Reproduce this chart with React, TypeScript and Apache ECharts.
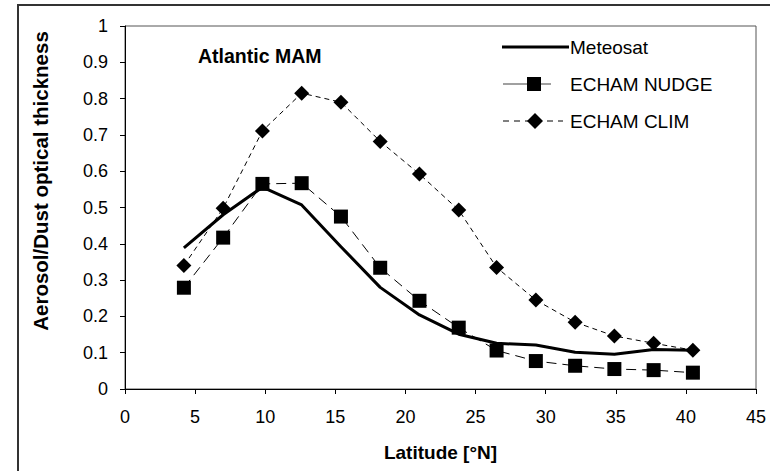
import React, { useEffect, useRef } from "react";
import * as echarts from "echarts";

// Latitude of each zonal band centre [°N]
const latitudes = [4.2, 7.0, 9.8, 12.6, 15.4, 18.2, 21.0, 23.8, 26.5, 29.3, 32.1, 34.9, 37.7, 40.5];

// Aerosol/dust optical thickness per band
const meteosat = [0.389, 0.48, 0.556, 0.507, 0.392, 0.28, 0.204, 0.151, 0.126, 0.121, 0.101, 0.096, 0.109, 0.107];
const echamNudge = [0.279, 0.417, 0.565, 0.567, 0.475, 0.334, 0.243, 0.169, 0.106, 0.077, 0.064, 0.055, 0.052, 0.045];
const echamClim = [0.34, 0.498, 0.711, 0.815, 0.79, 0.682, 0.592, 0.493, 0.335, 0.245, 0.184, 0.146, 0.126, 0.107];

const seriesNames = ["Meteosat", "ECHAM NUDGE", "ECHAM CLIM"];

const FONT = "'Liberation Sans', Arial, sans-serif";

const pairs = (ys: number[]) => latitudes.map((x, i) => [x, ys[i]]);

export default function App() {
  const ref = useRef<HTMLDivElement>(null);

  useEffect(() => {
    if (!ref.current) return;
    const chart = echarts.init(ref.current, undefined, { renderer: "svg" });

    const legendText = (y: number, text: string, x: number) => ({
      type: "text",
      x,
      y,
      style: {
        text,
        font: `19px ${FONT}`,
        fill: "#000",
        textAlign: "left",
        textVerticalAlign: "middle",
      },
    });

    chart.setOption({
      animation: false,
      backgroundColor: "#fff",
      grid: {
        left: 125,
        top: 26,
        right: 14,
        bottom: 82,
        show: true,
        borderColor: "#555",
        borderWidth: 1,
      },
      xAxis: {
        type: "value",
        min: 0,
        max: 45,
        interval: 5,
        name: "Latitude [°N]",
        nameLocation: "middle",
        nameGap: 54,
        nameTextStyle: { fontFamily: FONT, fontSize: 19, fontWeight: "bold", color: "#000" },
        axisLine: { show: true, lineStyle: { color: "#000", width: 1 } },
        axisTick: { show: true, length: 5, lineStyle: { color: "#000" } },
        axisLabel: { fontFamily: FONT, fontSize: 18, color: "#000", margin: 19 },
        splitLine: { show: false },
      },
      yAxis: {
        type: "value",
        min: 0,
        max: 1,
        interval: 0.1,
        axisLine: { show: true, lineStyle: { color: "#000", width: 1 } },
        axisTick: { show: true, length: 5, lineStyle: { color: "#000" } },
        axisLabel: { fontFamily: FONT, fontSize: 18, color: "#000", margin: 17 },
        splitLine: { show: false },
      },
      series: [
        {
          name: seriesNames[0],
          type: "line",
          data: pairs(meteosat),
          showSymbol: false,
          lineStyle: { color: "#000", width: 3 },
          z: 3,
        },
        {
          name: seriesNames[1],
          type: "line",
          data: pairs(echamNudge),
          symbol: "rect",
          symbolSize: 14,
          itemStyle: { color: "#000" },
          lineStyle: { color: "#000", width: 1, type: [10, 6] },
          z: 4,
        },
        {
          name: seriesNames[2],
          type: "line",
          data: pairs(echamClim),
          symbol: "diamond",
          symbolSize: 15,
          itemStyle: { color: "#000" },
          lineStyle: { color: "#000", width: 1, type: [5, 4] },
          z: 5,
        },
      ],
      graphic: [
        // outer frame
        {
          type: "rect",
          shape: { x: 18, y: 5, width: 800, height: 520 },
          style: { fill: "none", stroke: "#333", lineWidth: 2 },
          silent: true,
          z: -1,
        },
        {
          type: "text",
          x: 198,
          y: 56,
          style: {
            text: "Atlantic MAM",
            font: `bold 19.5px ${FONT}`,
            fill: "#000",
            textAlign: "left",
            textVerticalAlign: "middle",
          },
        },
        {
          type: "text",
          x: 40,
          y: 181,
          rotation: Math.PI / 2,
          style: {
            text: "Aerosol/Dust optical thickness",
            font: `bold 20.5px ${FONT}`,
            fill: "#000",
            textAlign: "center",
            textVerticalAlign: "middle",
          },
        },
        // legend
        {
          type: "line",
          shape: { x1: 502, y1: 47, x2: 569, y2: 47 },
          style: { stroke: "#000", lineWidth: 3 },
        },
        legendText(47, seriesNames[0], 570),
        {
          type: "line",
          shape: { x1: 503, y1: 84, x2: 551, y2: 84 },
          style: { stroke: "#808080", lineWidth: 1.5 },
        },
        {
          type: "rect",
          shape: { x: 527, y: 77, width: 14, height: 14 },
          style: { fill: "#000" },
        },
        legendText(84, seriesNames[1], 570),
        {
          type: "line",
          shape: { x1: 503, y1: 121, x2: 563, y2: 121 },
          style: { stroke: "#000", lineWidth: 1, lineDash: [6, 5] },
        },
        {
          type: "polygon",
          shape: { points: [[535, 113], [543, 121], [535, 129], [527, 121]] },
          style: { fill: "#000" },
        },
        legendText(121, seriesNames[2], 570),
      ],
    });

    return () => chart.dispose();
  }, []);

  return (
    <div
      ref={ref}
      style={{ position: "fixed", left: 0, top: 0, width: 770, height: 471 }}
    />
  );
}
